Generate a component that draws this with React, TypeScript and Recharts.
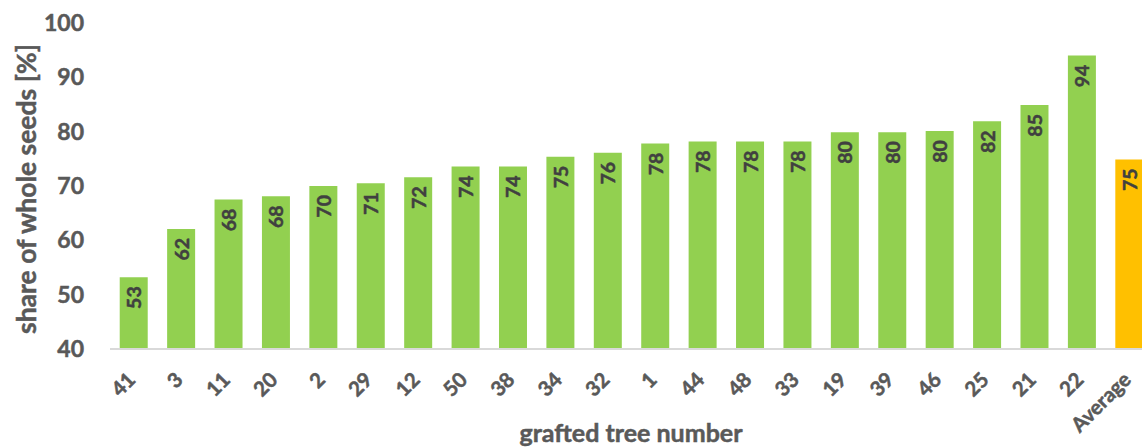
import React from 'react';
import { BarChart, Bar, XAxis, YAxis, Cell, LabelList, Label } from 'recharts';

const categories = ['41', '3', '11', '20', '2', '29', '12', '50', '38', '34', '32', '1', '44', '48', '33', '19', '39', '46', '25', '21', '22', 'Average'];
const shares = [53.2, 62.1, 67.5, 68.1, 70.0, 70.5, 71.6, 73.6, 73.6, 75.4, 76.1, 77.8, 78.2, 78.2, 78.2, 79.9, 79.9, 80.1, 81.9, 84.9, 94.0, 74.9];
const yTicks = [40, 50, 60, 70, 80, 90, 100];

const data = categories.map((c, i) => ({ name: c, value: shares[i] }));

const FONT = 'Lato, "Open Sans", sans-serif';
const TEXT = '#595959';
const GREEN = '#92D050';
const ORANGE = '#FFC000';

const XTick = (props: any) => {
  const { x, y, payload } = props;
  return (
    <g transform={`translate(${x + 3},${y + 24})`}>
      <text
        x={0}
        y={0}
        textAnchor="end"
        transform="rotate(-45)"
        fill={TEXT}
        stroke={TEXT}
        strokeWidth={0.5}
        fontFamily={FONT}
        fontWeight={700}
        fontSize={20.5}
      >
        {payload.value}
      </text>
    </g>
  );
};

const BarLabel = (props: any) => {
  const { x, y, width, value } = props;
  const cx = x + width / 2;
  const cy = y + 9;
  return (
    <text
      x={cx}
      y={cy}
      transform={`rotate(-90, ${cx}, ${cy})`}
      textAnchor="end"
      dominantBaseline="central"
      fill="#404040"
      stroke="#404040"
      strokeWidth={0.5}
      fontFamily={FONT}
      fontWeight={700}
      fontSize={19.5}
    >
      {Math.round(Number(value))}
    </text>
  );
};

export default function App() {
  return (
    <div style={{ position: 'fixed', left: 0, top: 0, width: 1142, height: 447, overflow: 'hidden', background: '#fff' }}>
      <BarChart
        width={1160}
        height={447}
        data={data}
        margin={{ top: 23, right: 7, left: 0, bottom: 0 }}
        barCategoryGap="20.5%"
      >
        <XAxis
          dataKey="name"
          interval={0}
          height={98}
          tickLine={false}
          axisLine={{ stroke: '#D9D9D9', strokeWidth: 2 }}
          tick={<XTick />}
        >
          <Label
            content={() => (
              <text x={631} y={442} textAnchor="middle" fill={TEXT} stroke={TEXT} strokeWidth={0.5} fontFamily={FONT} fontWeight={700} fontSize={25}>
                grafted tree number
              </text>
            )}
          />
        </XAxis>
        <YAxis
          width={110}
          domain={[40, 100]}
          ticks={yTicks}
          interval={0}
          axisLine={false}
          tickLine={false}
          tickMargin={20}
          allowDataOverflow
          tick={{ fill: TEXT, stroke: TEXT, strokeWidth: 0.5, fontFamily: FONT, fontWeight: 700, fontSize: 23 }}
        >
          <Label
            content={() => (
              <text
                x={26}
                y={189}
                transform="rotate(-90, 26, 189)"
                textAnchor="middle"
                dominantBaseline="central"
                fill={TEXT}
                stroke={TEXT}
                strokeWidth={0.5}
                fontFamily={FONT}
                fontWeight={700}
                fontSize={26.5}
              >
                share of whole seeds [%]
              </text>
            )}
          />
        </YAxis>
        <Bar dataKey="value" isAnimationActive={false}>
          {data.map((d, i) => (
            <Cell key={i} fill={d.name === 'Average' ? ORANGE : GREEN} />
          ))}
          <LabelList dataKey="value" content={<BarLabel />} />
        </Bar>
      </BarChart>
    </div>
  );
}
